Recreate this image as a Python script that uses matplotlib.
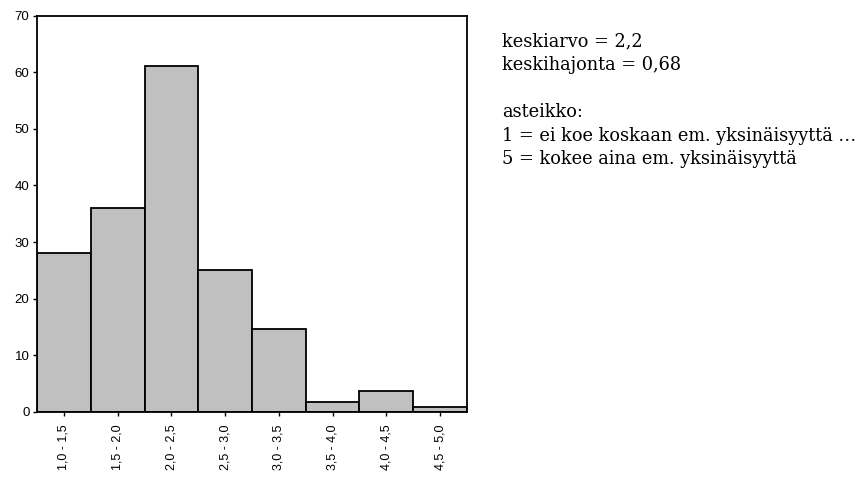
import numpy as np
import matplotlib as mpl
mpl.use('Agg')
import matplotlib.pyplot as plt


categories = ['1,0 - 1,5', '1,5 - 2,0', '2,0 - 2,5', '2,5 - 3,0',
              '3,0 - 3,5', '3,5 - 4,0', '4,0 - 4,5', '4,5 - 5,0']
values = [28.1, 36.0, 61.1, 25.0, 14.7, 1.7, 3.7, 0.9]
info_lines = ['keskiarvo = 2,2', 'keskihajonta = 0,68', '',
              'asteikko:', '1 = ei koe koskaan em. yksinäisyyttä …',
              '5 = kokee aina em. yksinäisyyttä']

plt.rcParams['font.family'] = ['Liberation Sans', 'DejaVu Sans']

fig = plt.figure(figsize=(8.67, 4.8), dpi=100)
ax = fig.add_axes([0.0427, 0.1417, 0.4959, 0.826])

x = np.arange(len(categories))
ax.bar(x, values, width=1.0, color='#c0c0c0', edgecolor='black',
       linewidth=1.3)
ax.set_xlim(-0.5, len(categories) - 0.5)
ax.set_ylim(0, 70)
ax.set_yticks(np.arange(0, 71, 10))
ax.set_xticks(x)
ax.set_xticklabels(categories, rotation=90, fontsize=9)
ax.tick_params(axis='y', labelsize=9.5, length=3, width=1.0, pad=2.5)
ax.tick_params(axis='x', length=3, width=1.0, pad=6)
for sp in ax.spines.values():
    sp.set_linewidth(1.3)

# text block on the right
y0 = 0.903
dy = 0.049
for i, line in enumerate(info_lines):
    if line:
        fig.text(0.579, y0 - i * dy, line, fontsize=12.8,
                 family=['DejaVu Serif'],
                 va='baseline', ha='left')

fig.savefig('out.png', dpi=100)
